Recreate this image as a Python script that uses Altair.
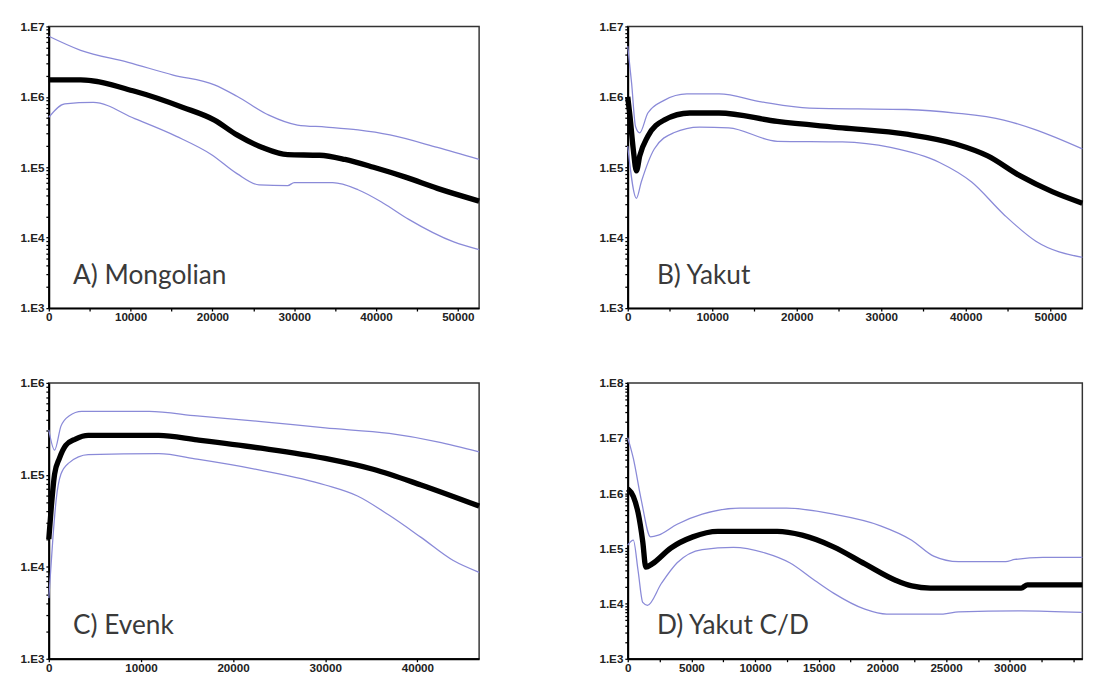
import altair as alt
import pandas as pd

# ---------------- Panel A: Mongolian ----------------
a_med_x = [0, 3900, 10500, 16400, 20250, 23000, 26100, 29200, 33100, 36200, 39700, 43600, 47500, 52600]
a_med = [1.74e6, 1.74e6, 1.20e6, 7.08e5, 4.68e5, 2.88e5, 1.91e5, 1.51e5, 1.48e5, 1.29e5, 1.00e5, 7.24e4, 5.01e4, 3.31e4]
a_up_x = [0, 3900, 9700, 15200, 20250, 23000, 26900, 30400, 33900, 37800, 41700, 47500, 52600]
a_up = [7.24e6, 4.57e6, 3.09e6, 2.04e6, 1.48e6, 1.02e6, 5.50e5, 3.98e5, 3.72e5, 3.39e5, 2.88e5, 1.91e5, 1.29e5]
a_lo_x = [0, 1950, 5450, 10500, 15600, 19900, 23000, 25700, 29200, 30000, 34700, 37800, 40900, 44000, 49500, 52600]
a_lo = [5.13e5, 7.94e5, 8.32e5, 4.90e5, 2.75e5, 1.51e5, 8.13e4, 5.62e4, 5.50e4, 6.03e4, 6.03e4, 4.79e4, 3.09e4, 1.82e4, 8.71e3, 6.76e3]

# ---------------- Panel B: Yakut ----------------
b_med_x = [0, 270, 650, 1030, 1420, 2380, 4300, 7350, 10800, 17700, 25400, 33000, 38800, 42600, 46400, 50300, 53800]
b_med = [1.00e6, 5.25e5, 1.82e5, 8.91e4, 1.45e5, 2.75e5, 4.68e5, 5.89e5, 5.89e5, 4.47e5, 3.63e5, 2.95e5, 2.14e5, 1.45e5, 7.59e4, 4.47e4, 3.09e4]
b_up_x = [0, 460, 920, 1420, 2380, 4300, 7000, 10800, 15800, 21500, 33000, 38800, 44500, 48300, 53800]
b_up = [5.25e6, 1.55e6, 3.80e5, 3.09e5, 5.89e5, 8.91e5, 1.10e6, 1.10e6, 8.51e5, 6.92e5, 6.61e5, 5.89e5, 4.68e5, 3.39e5, 1.82e5]
b_lo_x = [0, 1030, 1600, 3140, 5440, 8500, 11950, 17700, 25400, 31100, 36900, 40700, 44500, 48300, 53800]
b_lo = [2.00e5, 3.63e4, 6.17e4, 1.82e5, 3.09e5, 3.72e5, 3.63e5, 2.34e5, 2.29e5, 1.91e5, 1.17e5, 6.17e4, 2.14e4, 8.91e3, 5.25e3]

# ---------------- Panel C: Evenk ----------------
c_med_x = [0, 280, 630, 1150, 1840, 2890, 4280, 11930, 16100, 23050, 30000, 35200, 40400, 46700]
c_med = [2.00e4, 4.57e4, 1.02e5, 1.51e5, 2.09e5, 2.45e5, 2.69e5, 2.69e5, 2.40e5, 1.95e5, 1.51e5, 1.15e5, 7.76e4, 4.57e4]
c_up_x = [0, 630, 1320, 2190, 3580, 10880, 16100, 23050, 30000, 36950, 42180, 46700]
c_up = [3.09e5, 1.86e5, 3.39e5, 4.37e5, 4.90e5, 4.90e5, 4.37e5, 3.80e5, 3.24e5, 2.82e5, 2.29e5, 1.78e5]
c_lo_x = [0, 450, 800, 1320, 2190, 4280, 11930, 16100, 23050, 30000, 33500, 36950, 40400, 43900, 46700]
c_lo = [4.57e3, 2.09e4, 5.37e4, 1.02e5, 1.35e5, 1.66e5, 1.70e5, 1.48e5, 1.12e5, 7.76e4, 5.89e4, 3.63e4, 2.09e4, 1.17e4, 8.71e3]

# ---------------- Panel D: Yakut C/D ----------------
d_med_x = [0, 440, 810, 1180, 1420, 1920, 3390, 5110, 7070, 11740, 13700, 16160, 18620, 21070, 22300, 23770, 30900, 31390, 35700]
d_med = [1.20e6, 8.71e5, 4.47e5, 1.32e5, 4.57e4, 5.25e4, 1.02e5, 1.62e5, 2.04e5, 2.04e5, 1.74e5, 1.07e5, 5.25e4, 2.63e4, 2.09e4, 1.91e4, 1.91e4, 2.19e4, 2.19e4]
d_up_x = [0, 440, 1060, 1790, 2410, 3880, 5850, 8790, 12480, 16160, 19850, 22300, 24020, 25980, 29670, 30400, 32620, 35700]
d_up = [1.02e7, 4.27e6, 7.59e5, 1.62e5, 1.74e5, 2.75e5, 4.17e5, 5.37e5, 5.37e5, 4.17e5, 2.57e5, 1.41e5, 7.24e4, 5.75e4, 5.75e4, 6.31e4, 6.92e4, 6.92e4]
d_lo_x = [0, 440, 810, 1180, 1550, 2650, 3880, 5850, 8300, 10760, 12720, 14690, 16160, 18620, 20330, 24760, 25980, 30900, 35700]
d_lo = [1.15e5, 1.41e5, 3.98e4, 1.05e4, 9.33e3, 2.34e4, 5.50e4, 9.55e4, 1.05e5, 8.32e4, 5.50e4, 2.63e4, 1.55e4, 7.94e3, 6.46e3, 6.46e3, 7.08e3, 7.41e3, 6.92e3]

panel_labels = ["A) Mongolian", "B) Yakut", "C) Evenk", "D) Yakut C/D"]

BLUE = "#8a8ad8"
LABEL_FONT = "Liberation Sans"


def make_df(mx, my, ux, uy, lx, ly):
    parts = [
        pd.DataFrame({"x": ux, "y": uy, "s": "upper"}),
        pd.DataFrame({"x": lx, "y": ly, "s": "lower"}),
        pd.DataFrame({"x": mx, "y": my, "s": "median"}),
    ]
    return pd.concat(parts, ignore_index=True)


def panel(df, label, xmax, xtick_step, xlabel_step, xlabel_max, ypow_lo, ypow_hi,
          width, height, label_dx):
    xvals = list(range(0, int(xmax) + 1, xtick_step))
    xexpr = (f"(datum.value % {xlabel_step} == 0 && datum.value <= {xlabel_max}) "
             f"? format(datum.value, 'd') : ''")
    yvals = []
    for p in range(ypow_lo, ypow_hi):
        for k in range(1, 10):
            yvals.append(k * 10 ** p)
    yvals.append(10 ** ypow_hi)
    yexpr = ("abs(log(datum.value)/LN10 - round(log(datum.value)/LN10)) < 0.001 "
             "? '1.E' + round(log(datum.value)/LN10) : ''")

    x_enc = alt.X("x:Q", scale=alt.Scale(domain=[0, xmax], nice=False, zero=False),
                  axis=alt.Axis(values=xvals, labelExpr=xexpr, title=None, grid=False,
                                labelFlush=False, labelOverlap=False, labelPadding=1))
    y_enc = alt.Y("y:Q", scale=alt.Scale(type="log", domain=[10 ** ypow_lo, 10 ** ypow_hi], nice=False),
                  axis=alt.Axis(values=yvals, labelExpr=yexpr, title=None, grid=False,
                                labelFlush=False, labelOverlap=False, labelPadding=2))

    base = alt.Chart(df)
    bounds = base.transform_filter(alt.datum.s != "median").mark_line(
        color=BLUE, strokeWidth=1.3, interpolate="monotone"
    ).encode(x=x_enc, y=y_enc, detail="s:N")
    median = base.transform_filter(alt.datum.s == "median").mark_line(
        color="black", strokeWidth=5.5, interpolate="monotone"
    ).encode(x=x_enc, y=y_enc)
    txt = alt.Chart(pd.DataFrame({"t": [label]})).mark_text(
        align="left", baseline="alphabetic", font="Lato", fontSize=27, color="#3a3a3a"
    ).encode(x=alt.value(label_dx), y=alt.value(height - 25), text="t:N")
    return alt.layer(bounds, median, txt).properties(width=width, height=height)


dfA = make_df(a_med_x, a_med, a_up_x, a_up, a_lo_x, a_lo)
dfB = make_df(b_med_x, b_med, b_up_x, b_up, b_lo_x, b_lo)
dfC = make_df(c_med_x, c_med, c_up_x, c_up, c_lo_x, c_lo)
dfD = make_df(d_med_x, d_med, d_up_x, d_up, d_lo_x, d_lo)

pA = panel(dfA, panel_labels[0], 52600, 5000, 10000, 50000, 3, 7, 443, 290, 25)
pB = panel(dfB, panel_labels[1], 53800, 5000, 10000, 50000, 3, 7, 468, 290, 30)
pC = panel(dfC, panel_labels[2], 46700, 10000, 10000, 40000, 3, 6, 443, 284, 25)
pD = panel(dfD, panel_labels[3], 35700, 2500, 5000, 30000, 3, 8, 468, 284, 30)

top = alt.hconcat(pA, pB, spacing=110)
bottom = alt.hconcat(pC, pD, spacing=110)

chart = alt.vconcat(top, bottom, spacing=54).properties(
    padding={"left": 11, "top": 2, "right": 0, "bottom": 0}
).configure_view(
    stroke="#333333", strokeWidth=1.5
).configure_axis(
    domainColor="black", domainWidth=2, tickColor="black", tickSize=3, tickWidth=1.3,
    labelFont=LABEL_FONT, labelFontWeight="bold", labelFontSize=12, labelColor="#222222"
)

chart.save("out.html", embed_options={"renderer": "svg", "actions": False})
